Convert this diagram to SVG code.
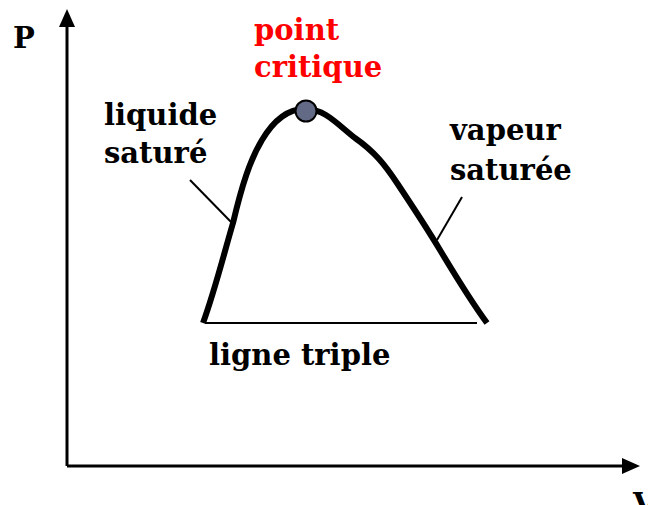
<svg xmlns="http://www.w3.org/2000/svg" width="648" height="505" viewBox="0 0 648 505">
<style>
.t{font-family:"DejaVu Serif","Liberation Serif",serif;font-weight:bold;font-size:29px;fill:#000}
.r{fill:#ff0000}
.ax{stroke:#000;stroke-width:3;fill:none}
.ln{stroke:#000;stroke-width:2;fill:none}
</style>
<rect width="648" height="505" fill="#fff"/>
<g id="connectors">
<line class="ax" x1="67" y1="466" x2="67" y2="26"/>
<path d="M59,27 L67,9 L75,27 z" fill="#000"/>
<line class="ax" x1="67" y1="466" x2="622" y2="466"/>
<path d="M622,458 L640,466 L622,474 z" fill="#000"/>
<line class="ln" x1="205" y1="323" x2="477" y2="323"/>
<line class="ln" x1="190" y1="180" x2="232" y2="223"/>
<line class="ln" x1="462" y1="197" x2="437" y2="240"/>
</g>
<g id="curve">
<path d="M203,323 C215,290 225,250 233,223 C242,185 250,160 262,140 C275,118 290,108 307,109 C325,110 335,122 355,138 C375,152 385,165 397,183 C415,210 425,225 440,250 C455,275 470,300 487,323" stroke="#000" stroke-width="6" fill="none"/>
</g>
<g id="critical">
<circle cx="306" cy="111" r="10.5" fill="#636a85" stroke="#000" stroke-width="2"/>
<text class="t r" x="254" y="40">point</text>
<text class="t r" x="254" y="77">critique</text>
</g>
<g id="axis-labels">
<text class="t" x="13" y="48">P</text>
<text class="t" x="633" y="514">V</text>
</g>
<g id="liquide">
<text class="t" x="104" y="125">liquide</text>
<text class="t" x="104" y="163">saturé</text>
</g>
<g id="vapeur">
<text class="t" x="450" y="140">vapeur</text>
<text class="t" x="450" y="180">saturée</text>
</g>
<g id="triple">
<text class="t" x="209" y="365">ligne triple</text>
</g>
</svg>
